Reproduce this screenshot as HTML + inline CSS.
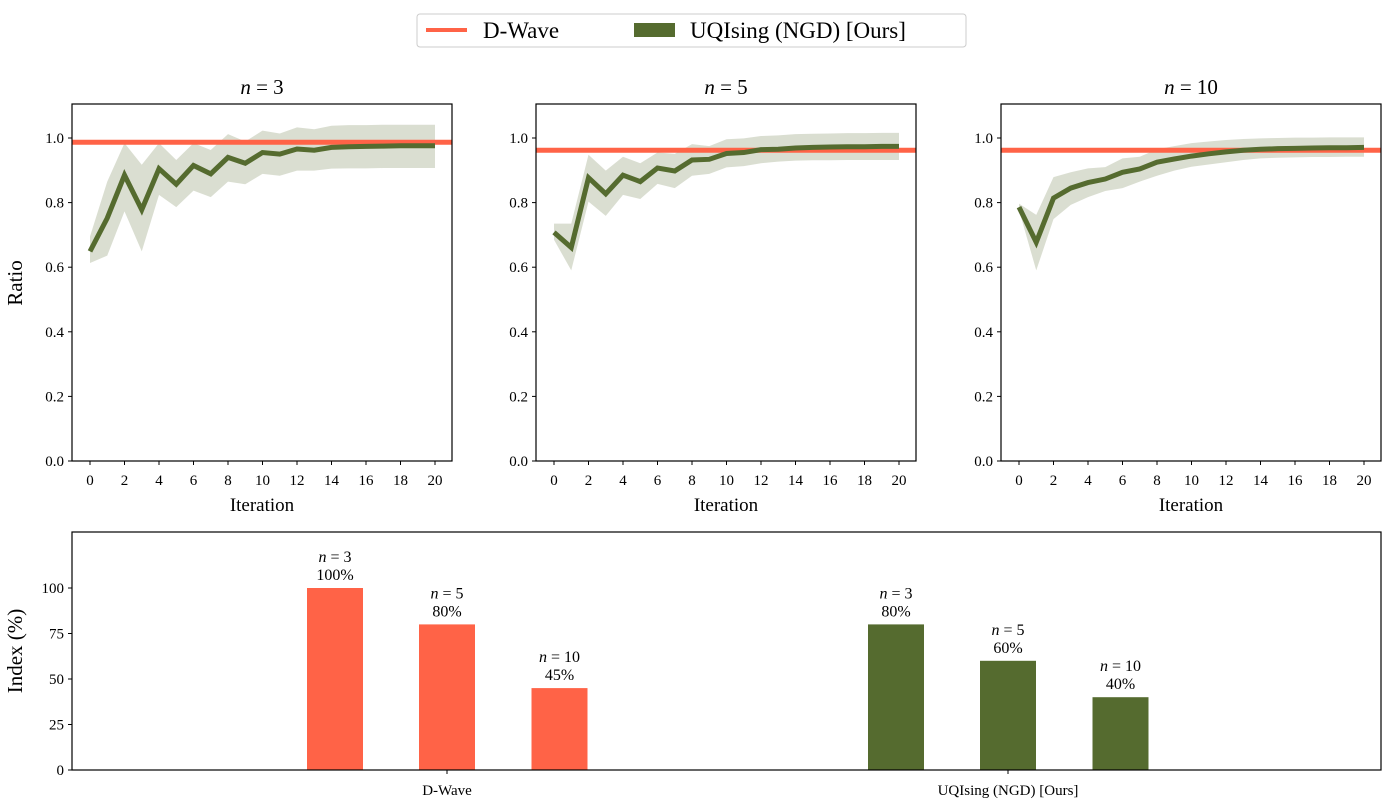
<!DOCTYPE html>
<html><head><meta charset="utf-8"><style>
body{margin:0;background:#fff;}
svg{display:block;font-family:"Liberation Serif","DejaVu Serif",serif;}
</style></head><body>
<svg id="fig" width="1383" height="801" viewBox="0 0 1383 801">
<g>
<rect x="417" y="14" width="549" height="33" fill="#fff" stroke="#ccc" rx="3"/>
<line x1="426" y1="30" x2="467" y2="30" stroke="#ff6347" stroke-width="4"/>
<text x="483" y="38" font-size="23">D-Wave</text>
<rect x="634" y="23" width="41" height="14" fill="#556b2f"/>
<text x="690" y="38" font-size="23">UQIsing (NGD) [Ours]</text>
</g>
</svg>
<script>
const iterations=[0,1,2,3,4,5,6,7,8,9,10,11,12,13,14,15,16,17,18,19,20];
const titles=["3","5","10"];
const dwaveRatio=[0.987,0.962,0.962];
const mean3=[0.649,0.752,0.885,0.778,0.905,0.857,0.915,0.889,0.940,0.922,0.955,0.950,0.966,0.962,0.971,0.973,0.974,0.975,0.976,0.976,0.976];
const upper3=[0.695,0.865,0.984,0.917,0.984,0.932,0.984,0.963,1.012,0.989,1.023,1.014,1.033,1.027,1.038,1.040,1.040,1.041,1.041,1.041,1.041];
const lower3=[0.613,0.636,0.773,0.649,0.824,0.786,0.837,0.817,0.865,0.857,0.889,0.883,0.899,0.899,0.905,0.906,0.906,0.907,0.907,0.907,0.907];
const mean5=[0.708,0.661,0.877,0.827,0.885,0.865,0.907,0.898,0.932,0.934,0.952,0.955,0.964,0.965,0.969,0.971,0.972,0.973,0.973,0.974,0.974];
const upper5=[0.735,0.735,0.948,0.899,0.942,0.922,0.955,0.951,0.981,0.975,0.996,0.999,1.006,1.008,1.012,1.013,1.014,1.015,1.015,1.016,1.016];
const lower5=[0.685,0.590,0.803,0.759,0.824,0.811,0.858,0.845,0.883,0.889,0.909,0.913,0.922,0.927,0.930,0.931,0.931,0.932,0.932,0.932,0.932];
const mean10=[0.786,0.677,0.814,0.845,0.862,0.873,0.894,0.904,0.925,0.935,0.944,0.951,0.957,0.962,0.965,0.967,0.968,0.969,0.970,0.970,0.971];
const upper10=[0.797,0.762,0.879,0.894,0.906,0.910,0.937,0.942,0.965,0.975,0.984,0.989,0.994,0.997,0.999,1.000,1.001,1.001,1.002,1.002,1.002];
const lower10=[0.777,0.590,0.749,0.793,0.817,0.836,0.845,0.865,0.883,0.899,0.911,0.918,0.925,0.932,0.937,0.939,0.940,0.941,0.941,0.942,0.942];
const yTicks=[0,0.2,0.4,0.6,0.8,1.0];
const xTicks=[0,2,4,6,8,10,12,14,16,18,20];
const barGroups=["D-Wave","UQIsing (NGD) [Ours]"];
const barLabels=["3","5","10"];
const dwaveIndex=[100,80,45];
const uqIndex=[80,60,40];
const indexTicks=[0,25,50,75,100];

const NS="http://www.w3.org/2000/svg";
const svg=document.getElementById('fig');
function mk(tag,attrs,parent){const e=document.createElementNS(NS,tag);for(const k in attrs)e.setAttribute(k,attrs[k]);(parent||svg).appendChild(e);return e;}
function txt(x,y,s,size,anchor,parent){const t=mk('text',{x:x,y:y,'font-size':size,'text-anchor':anchor||'middle'},parent);t.textContent=s;return t;}

const means=[mean3,mean5,mean10],uppers=[upper3,upper5,upper10],lowers=[lower3,lower5,lower10];
const lefts=[72,536,1001];
for(let p=0;p<3;p++){
  const L=lefts[p],R=L+380,T=104,B=461;
  const xs=v=>L+18+(v-0)*(345/20);
  const ys=v=>B-v*(B-138)/1.0;
  const g=mk('g',{});
  
  
  let d='';
  iterations.forEach((it,i)=>{d+=(i?'L':'M')+xs(it)+','+ys(uppers[p][i]);});
  for(let i=iterations.length-1;i>=0;i--)d+='L'+xs(iterations[i])+','+ys(lowers[p][i]);
  const band=mk('path',{d:d+'Z',fill:'#556b2f','fill-opacity':0.22},g);
  
  
  const dl=mk('line',{x1:L,x2:R,y1:ys(dwaveRatio[p]),y2:ys(dwaveRatio[p]),stroke:'#ff6347','stroke-width':5},g);
  
  
  const pts=iterations.map((it,i)=>xs(it)+','+ys(means[p][i])).join(' ');
  const ml=mk('polyline',{points:pts,fill:'none',stroke:'#556b2f','stroke-width':5,'stroke-linejoin':'miter'},g);
  
  
  const fr=mk('rect',{x:L,y:T,width:R-L,height:B-T,fill:'none',stroke:'#000','stroke-width':1.2},g);
  
  
  yTicks.forEach(v=>{mk('line',{x1:L-4,x2:L,y1:ys(v),y2:ys(v),stroke:'#000'},g);const t=txt(L-8,ys(v)+5,v.toFixed(1),15,'end',g);});
  xTicks.forEach(v=>{mk('line',{x1:xs(v),x2:xs(v),y1:B,y2:B+4,stroke:'#000'},g);const t=txt(xs(v),B+24,String(v),15,'middle',g);});
  const xt=txt((L+R)/2,B+50,'Iteration',19,'middle',g);
  
  
  const tt=mk('text',{x:(L+R)/2,y:94,'font-size':21,'text-anchor':'middle'},g);
  tt.innerHTML='<tspan font-style="italic">n</tspan> = '+titles[p];
  
  
}
const yl=mk('text',{x:0,y:0,'font-size':21,'text-anchor':'middle',transform:'translate(22,283) rotate(-90)'});
yl.textContent='Ratio';



// bar chart
const bL=72,bR=1382,bT=532,bB=770;
const by=v=>bB-v*1.82;
const groupCenters=[447,1008];
const offsets=[-112,0,112.5];
const bg=mk('g',{});


const series=[dwaveIndex,uqIndex],colors=['#ff6347','#556b2f'];
series.forEach((vals,gi)=>{
  vals.forEach((v,i)=>{
    const cx=groupCenters[gi]+offsets[i];
    const r=mk('rect',{x:cx-28,y:by(v),width:56,height:bB-by(v),fill:colors[gi]},bg);
    
    
    const t1=mk('text',{x:cx,y:by(v)-26,'font-size':16,'text-anchor':'middle'},bg);
    t1.innerHTML='<tspan font-style="italic">n</tspan> = '+barLabels[i];
    
    
    const t2=txt(cx,by(v)-8,v+'%',16,'middle',bg);
    
    
  });
  mk('line',{x1:groupCenters[gi],x2:groupCenters[gi],y1:bB,y2:bB+4,stroke:'#000'},bg);
  const gl=txt(groupCenters[gi],bB+25,barGroups[gi],15,'middle',bg);
  
  
});
const bf=mk('rect',{x:bL,y:bT,width:bR-bL-1,height:bB-bT,fill:'none',stroke:'#000','stroke-width':1.2},bg);


indexTicks.forEach(v=>{mk('line',{x1:bL-4,x2:bL,y1:by(v),y2:by(v),stroke:'#000'},bg);const t=txt(bL-8,by(v)+5,String(v),15,'end',bg);});
const il=mk('text',{x:0,y:0,'font-size':21,'text-anchor':'middle',transform:'translate(22,651) rotate(-90)'});
il.textContent='Index (%)';


</script>
</body></html>
